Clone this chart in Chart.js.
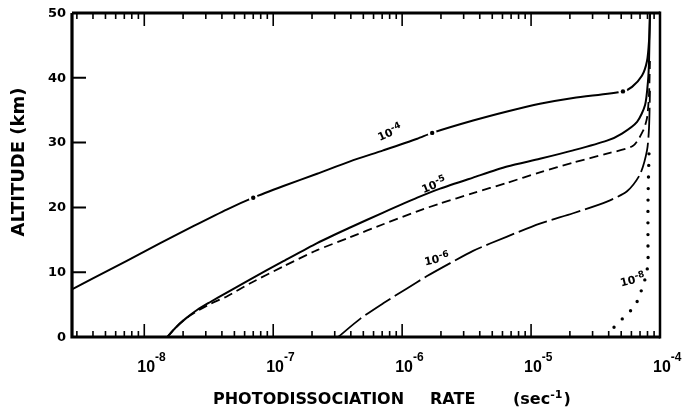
<!DOCTYPE html>
<html>
<head>
<meta charset="utf-8">
<title>Photodissociation rate vs altitude</title>
<script src="https://cdn.jsdelivr.net/npm/chart.js@4/dist/chart.umd.min.js"></script>
<style>
  html, body { margin: 0; padding: 0; background: #fff; }
  #wrap { width: 688px; height: 413px; }
</style>
</head>
<body>
<div id="wrap"><canvas id="chart" width="688" height="413"></canvas></div>
<script>
// curve 10^-4 (solid)
const rateA = [2.77e-9, 4.03e-9, 7.38e-9, 1.33e-8, 2.40e-8, 4.40e-8, 7.0e-8, 1.20e-7, 2.19e-7, 3.95e-7,
  7.13e-7, 1.31e-6, 1.71e-6, 3.55e-6, 6.52e-6, 1.17e-5, 2.12e-5, 5.16e-5, 6.07e-5, 7.24e-5,
  7.93e-5, 8.22e-5, 8.36e-5, 8.36e-5];
const altA = [7.4, 9.1, 11.8, 14.5, 17.1, 19.7, 21.5, 23.3, 25.2, 27.1,
  28.8, 30.6, 31.5, 33.4, 34.8, 36.0, 36.9, 37.9, 38.6, 40.3,
  42.6, 45.7, 49.8, 50];

// curve 10^-5 (solid)
const rateB = [1.51e-8, 1.74e-8, 2.08e-8, 2.58e-8, 3.25e-8, 4.40e-8, 6.64e-8, 1.20e-7, 2.19e-7, 3.95e-7,
  7.13e-7, 1.31e-6, 1.97e-6, 3.55e-6, 6.52e-6, 1.17e-5, 2.12e-5, 3.88e-5, 5.07e-5, 6.64e-5,
  7.66e-5, 8.07e-5, 8.22e-5, 8.36e-5];
const altB = [0, 1.4, 2.8, 4.2, 5.4, 6.9, 8.9, 11.7, 14.5, 16.9,
  19.2, 21.5, 22.9, 24.6, 26.3, 27.5, 28.8, 30.3, 31.4, 33.2,
  35.8, 39.5, 42.6, 50];

// unlabelled dashed curve next to 10^-5
const rateC = [1.51e-8, 1.74e-8, 2.08e-8, 2.58e-8, 3.25e-8, 4.40e-8, 6.64e-8, 1.20e-7, 2.19e-7, 3.95e-7,
  7.13e-7, 1.31e-6, 1.97e-6, 3.55e-6, 6.52e-6, 1.17e-5, 2.12e-5, 3.88e-5, 6.18e-5, 7.38e-5,
  7.93e-5, 8.22e-5, 8.36e-5];
const altC = [0, 1.4, 2.8, 4.0, 5.1, 6.3, 8.3, 10.9, 13.4, 15.4,
  17.4, 19.4, 20.6, 22.2, 23.8, 25.4, 26.9, 28.3, 29.5, 31.8,
  33.8, 37.5, 42.6];

// curve 10^-6 (long dashes)
const rateD = [3.19e-7, 4.72e-7, 7.13e-7, 1.09e-6, 1.56e-6, 2.36e-6, 3.55e-6, 6.52e-6, 1.17e-5, 2.12e-5,
  3.88e-5, 5.55e-5, 7.00e-5, 7.93e-5, 8.22e-5, 8.36e-5];
const altD = [0, 2.8, 5.2, 7.5, 9.4, 11.4, 13.3, 15.5, 17.5, 19.1,
  20.9, 22.5, 25.1, 28.8, 32.3, 38];

// curve 10^-8 (dotted)
const rateE = [4.40e-5, 5.16e-5, 6.07e-5, 6.87e-5, 7.24e-5, 7.78e-5, 8.07e-5, 8.07e-5, 8.07e-5, 8.22e-5];
const altE = [1.5, 2.9, 4.3, 6.0, 7.5, 9.4, 11.4, 13.4, 20.6, 28.5];

// little dots sitting on the 10^-4 curve
const dotRate = [7.0e-8, 1.71e-6, 5.16e-5];
const dotAlt = [21.5, 31.5, 37.9];

// curve labels (exponent, rate, altitude, angle in degrees)
const curveLabels = [
  ["-4", 7.78e-7, 31.5, -24],
  ["-5", 1.71e-6, 23.4, -22],
  ["-6", 1.80e-6, 12.0, -12],
  ["-8", 5.96e-5, 8.8, -14],
];

const altTicks = [0, 10, 20, 30, 40, 50];
const decades = [-8, -7, -6, -5, -4];

const xMin = 2.75e-9;
const xMax = 1e-4;

const pts = (xs, ys) => xs.map((x, i) => ({ x, y: ys[i] }));

const lineSet = (xs, ys, dash, width, order) => ({
  data: pts(xs, ys),
  borderColor: "#000",
  borderWidth: width,
  borderDash: dash,
  tension: 0.25,
  pointRadius: 0,
  fill: false,
  order,
});

const BOLD = "DejaVu Sans";
const TICKFONT = "Liberation Sans";

// draws "10" with a raised exponent
function drawPow(ctx, x, y, exp, size, expSize, rise, font) {
  ctx.font = `bold ${size}px "${font}"`;
  ctx.fillText("10", x, y);
  const w = ctx.measureText("10").width;
  ctx.font = `bold ${expSize}px "${font}"`;
  ctx.fillText(exp, x + w, y - rise);
}

const framePlugin = {
  id: "frame",
  afterDraw(chart) {
    const { ctx, chartArea: a, scales } = chart;
    const xs = scales.x;
    const ys = scales.y;
    ctx.save();
    ctx.strokeStyle = "#000";
    ctx.fillStyle = "#000";
    ctx.lineCap = "butt";

    // frame
    ctx.lineWidth = 3.2;
    ctx.beginPath();
    ctx.moveTo(a.left, a.top);
    ctx.lineTo(a.left, a.bottom);
    ctx.lineTo(a.right, a.bottom);
    ctx.moveTo(a.left, a.top);
    ctx.lineTo(a.right, a.top);
    ctx.stroke();
    ctx.lineWidth = 2.5;
    ctx.beginPath();
    ctx.moveTo(a.right, a.top - 1.5);
    ctx.lineTo(a.right, a.bottom + 1.5);
    ctx.stroke();

    // altitude ticks, pointing inward
    ctx.lineWidth = 2;
    ctx.beginPath();
    altTicks.forEach((t) => {
      const y = ys.getPixelForValue(t);
      ctx.moveTo(a.left, y);
      ctx.lineTo(a.left + 14, y);
    });
    ctx.stroke();

    // log ticks top and bottom
    ctx.lineWidth = 1.6;
    ctx.beginPath();
    for (let p = -9; p <= -5; p++) {
      for (let m = 1; m <= 9; m++) {
        const v = m * Math.pow(10, p);
        if (v < xMin || v > xMax * 0.999) continue;
        const x = xs.getPixelForValue(v);
        const len = m === 1 ? 13 : 6;
        ctx.moveTo(x, a.bottom);
        ctx.lineTo(x, a.bottom - len);
        ctx.moveTo(x, a.top);
        ctx.lineTo(x, a.top + len);
      }
    }
    ctx.stroke();

    // altitude labels
    ctx.font = `bold 13px "${BOLD}"`;
    ctx.textAlign = "right";
    ctx.textBaseline = "middle";
    altTicks.forEach((t) => {
      ctx.fillText(String(t), a.left - 6, ys.getPixelForValue(t) + 0.5);
    });

    // rate labels
    ctx.textAlign = "left";
    ctx.textBaseline = "alphabetic";
    decades.forEach((d) => {
      const x = xs.getPixelForValue(Math.pow(10, d));
      drawPow(ctx, x - 7, a.bottom + 35, "-" + String(-d), 16, 12, 11, TICKFONT);
    });

    // curve labels
    curveLabels.forEach(([exp, r, h, ang]) => {
      ctx.save();
      ctx.translate(xs.getPixelForValue(r), ys.getPixelForValue(h));
      ctx.rotate((ang * Math.PI) / 180);
      ctx.textAlign = "left";
      drawPow(ctx, -11, 4, exp, 11, 9, 4, BOLD);
      ctx.restore();
    });

    // axis titles
    ctx.font = `bold 16px "${BOLD}"`;
    ctx.fillText("PHOTODISSOCIATION", 213, 404);
    ctx.fillText("RATE", 430, 404);
    ctx.fillText("(sec", 513, 404);
    let w = ctx.measureText("(sec").width;
    ctx.font = `bold 11px "${BOLD}"`;
    ctx.fillText("-1", 513 + w, 398);
    w += ctx.measureText("-1").width;
    ctx.font = `bold 16px "${BOLD}"`;
    ctx.fillText(")", 513 + w + 1, 404);

    ctx.save();
    ctx.translate(24, 162);
    ctx.rotate(-Math.PI / 2);
    ctx.textAlign = "center";
    ctx.font = `bold 18px "${BOLD}"`;
    ctx.fillText("ALTITUDE (km)", 0, 0);
    ctx.restore();

    ctx.restore();
  },
};

new Chart(document.getElementById("chart"), {
  type: "line",
  data: {
    datasets: [
      {
        data: pts(dotRate, dotAlt),
        showLine: false,
        pointRadius: 2.2,
        pointBackgroundColor: "#000",
        pointBorderWidth: 0,
        order: 0,
      },
      {
        data: pts(dotRate, dotAlt),
        showLine: false,
        pointRadius: 4.5,
        pointBackgroundColor: "#fff",
        pointBorderWidth: 0,
        order: 1,
      },
      lineSet(rateA, altA, [], 2, 2),
      lineSet(rateB, altB, [], 2, 3),
      lineSet(rateC, altC, [9, 5], 1.8, 4),
      lineSet(rateD, altD, [30, 5], 1.8, 5),
      {
        ...lineSet(rateE, altE, [0, 11.5], 3.4, 6),
        borderCapStyle: "round",
      },
    ],
  },
  options: {
    responsive: false,
    animation: false,
    layout: { padding: { left: 72, top: 13, right: 28, bottom: 76 } },
    plugins: {
      legend: { display: false },
      tooltip: { enabled: false },
    },
    scales: {
      x: { type: "logarithmic", min: xMin, max: xMax, display: false },
      y: { type: "linear", min: 0, max: 50, display: false },
    },
  },
  plugins: [framePlugin],
});
</script>
</body>
</html>
